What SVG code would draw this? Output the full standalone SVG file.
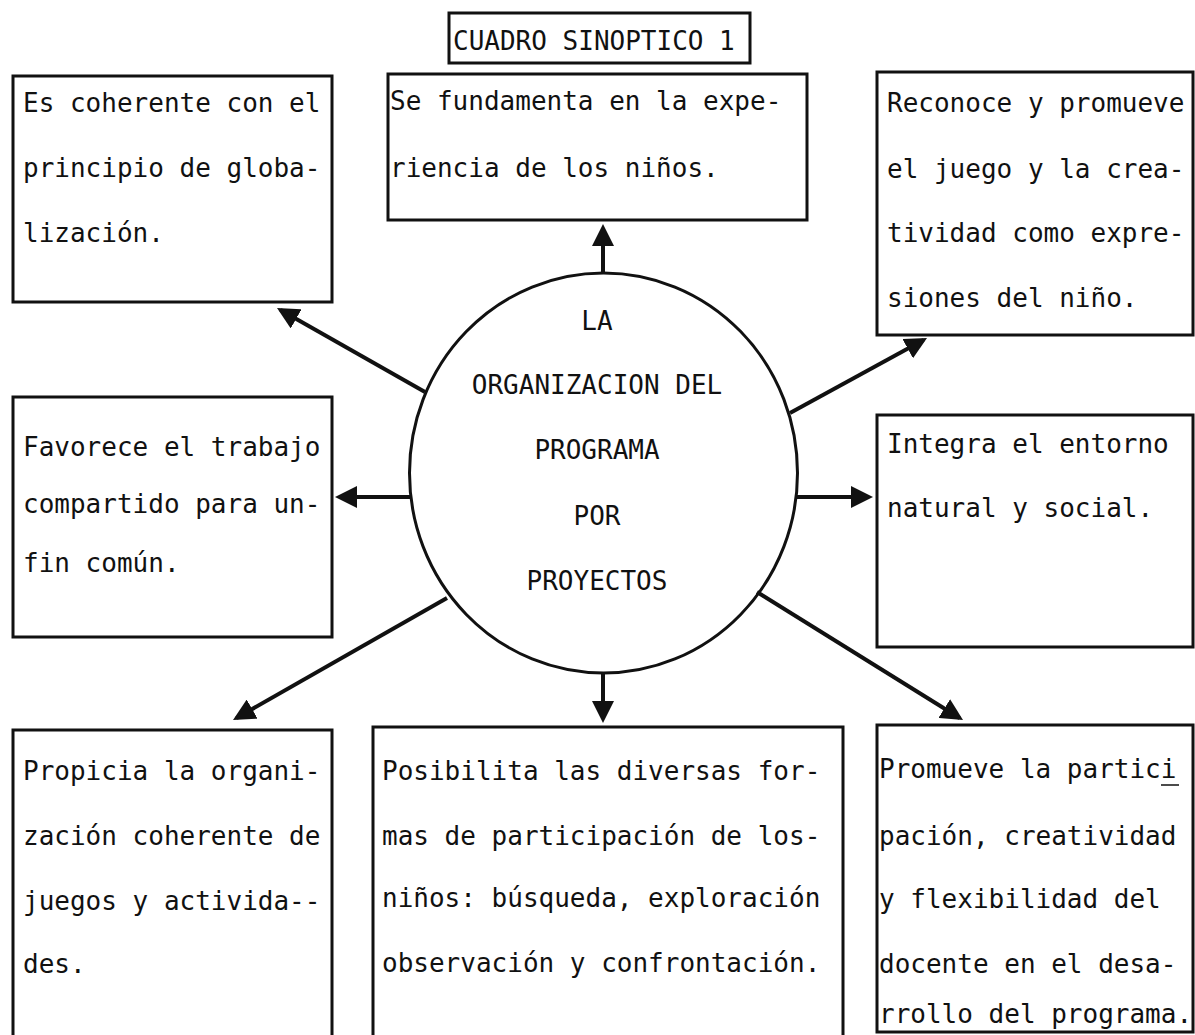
<svg xmlns="http://www.w3.org/2000/svg" width="1195" height="1035" viewBox="0 0 1195 1035">
<style>
.box{fill:#fff;stroke:#111;stroke-width:3}
.t{font-family:"DejaVu Sans Mono","Liberation Mono",monospace;font-size:26px;fill:#111}
.c{text-anchor:middle}
.arr{stroke:#111;stroke-width:4;fill:none;marker-end:url(#ah)}
</style>
<defs>
<marker id="ah" markerUnits="userSpaceOnUse" markerWidth="22" markerHeight="22" refX="18" refY="11" orient="auto">
<path d="M0,0 L22,11 L0,22 Z" fill="#111"/>
</marker>
</defs>
<rect width="1195" height="1035" fill="#fff"/>

<g id="title">
<rect class="box" x="449" y="13" width="301" height="50"/>
<text class="t" x="453" y="50">CUADRO SINOPTICO 1</text>
</g>

<g id="center">
<ellipse cx="603.5" cy="473" rx="194" ry="200" fill="#fff" stroke="#111" stroke-width="3"/>
<text class="t c" x="597" y="330">LA</text>
<text class="t c" x="597" y="394">ORGANIZACION DEL</text>
<text class="t c" x="597" y="459">PROGRAMA</text>
<text class="t c" x="597" y="525">POR</text>
<text class="t c" x="597" y="590">PROYECTOS</text>
</g>

<g id="n-globalizacion">
<rect class="box" x="13" y="76" width="319" height="226"/>
<text class="t" x="23" y="112">Es coherente con el</text>
<text class="t" x="23" y="177">principio de globa-</text>
<text class="t" x="23" y="242">lización.</text>
</g>

<g id="n-experiencia">
<rect class="box" x="388" y="74" width="419" height="146"/>
<text class="t" x="390" y="110">Se fundamenta en la expe-</text>
<text class="t" x="390" y="177">riencia de los niños.</text>
</g>

<g id="n-juego">
<rect class="box" x="877" y="72" width="316" height="263"/>
<text class="t" x="887" y="112">Reconoce y promueve</text>
<text class="t" x="887" y="178">el juego y la crea-</text>
<text class="t" x="887" y="242">tividad como expre-</text>
<text class="t" x="887" y="307">siones del niño.</text>
</g>

<g id="n-trabajo">
<rect class="box" x="13" y="397" width="319" height="240"/>
<text class="t" x="23" y="456">Favorece el trabajo</text>
<text class="t" x="23" y="513">compartido para un-</text>
<text class="t" x="23" y="572">fin común.</text>
</g>

<g id="n-entorno">
<rect class="box" x="877" y="415" width="316" height="232"/>
<text class="t" x="887" y="453">Integra el entorno</text>
<text class="t" x="887" y="517">natural y social.</text>
</g>

<g id="n-organizacion">
<rect class="box" x="13" y="730" width="319" height="315"/>
<text class="t" x="23" y="780">Propicia la organi-</text>
<text class="t" x="23" y="845">zación coherente de</text>
<text class="t" x="23" y="910">juegos y activida--</text>
<text class="t" x="23" y="973">des.</text>
</g>

<g id="n-participacion">
<rect class="box" x="373" y="727" width="470" height="318"/>
<text class="t" x="382" y="780">Posibilita las diversas for-</text>
<text class="t" x="382" y="845">mas de participación de los-</text>
<text class="t" x="382" y="907">niños: búsqueda, exploración</text>
<text class="t" x="382" y="972">observación y confrontación.</text>
</g>

<g id="n-docente">
<rect class="box" x="877" y="725" width="316" height="307"/>
<text class="t" x="879" y="778">Promueve la partici</text>
<line x1="1161" y1="785" x2="1179" y2="785" stroke="#111" stroke-width="1.5"/>
<text class="t" x="879" y="845">pación, creatividad</text>
<text class="t" x="879" y="908">y flexibilidad del</text>
<text class="t" x="879" y="973">docente en el desa-</text>
<text class="t" x="879" y="1023">rrollo del programa.</text>
</g>

<g id="connectors">
<line class="arr" x1="603" y1="273" x2="603" y2="228"/>
<line class="arr" x1="425" y1="392" x2="280.5" y2="310"/>
<line class="arr" x1="790" y1="413" x2="923.5" y2="340"/>
<line class="arr" x1="410" y1="497" x2="339" y2="497"/>
<line class="arr" x1="797" y1="497" x2="869" y2="497"/>
<line class="arr" x1="447" y1="598" x2="236.5" y2="718"/>
<line class="arr" x1="603" y1="673" x2="603" y2="719"/>
<line class="arr" x1="757" y1="592" x2="959.6" y2="718"/>
</g>
</svg>
